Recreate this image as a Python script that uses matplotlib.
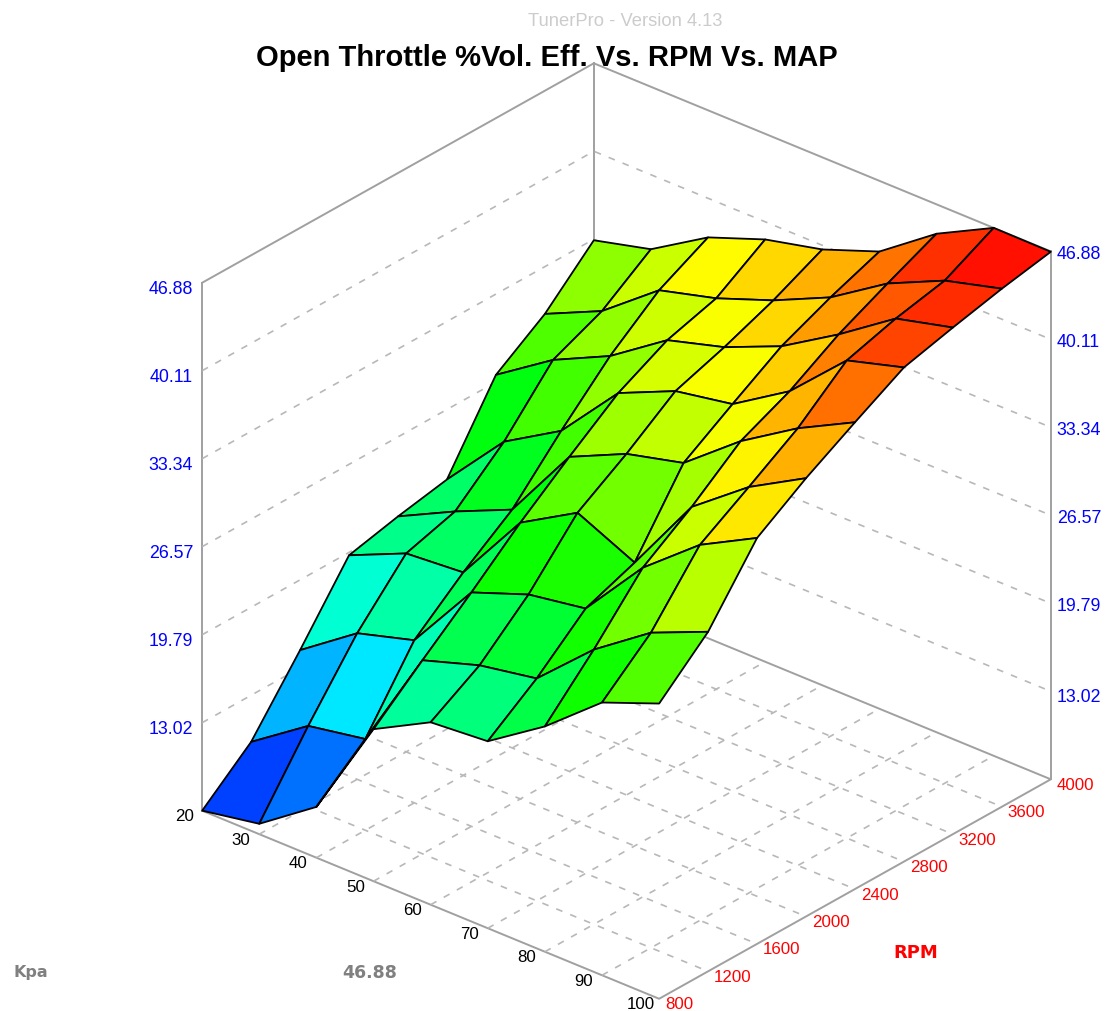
import matplotlib
matplotlib.use('Agg')
import matplotlib.pyplot as plt
from matplotlib.colors import LinearSegmentedColormap, Normalize
from mpl_toolkits.mplot3d import proj3d
import numpy as np

plt.rcParams['font.family'] = ['Liberation Sans', 'DejaVu Sans']

kpa = [20, 30, 40, 50, 60, 70, 80, 90, 100]
rpm = [800, 1200, 1600, 2000, 2400, 2800, 3200, 3600, 4000]
z_ticks = [6.25, 13.02, 19.79, 26.57, 33.34, 40.11, 46.88]

# one row per RPM, one column per Kpa
ve_800 = [6.25, 7.05, 10.16, 17.95, 20.29, 20.64, 23.59, 27.24, 28.97]
ve_1200 = [9.43, 12.47, 13.27, 21.14, 22.56, 23.36, 27.39, 30.50, 32.38]
ve_1600 = [14.38, 17.49, 18.76, 24.25, 25.90, 26.63, 31.58, 35.15, 37.49]
ve_2000 = [19.57, 21.52, 21.87, 27.51, 30.08, 28.05, 34.15, 37.49, 39.98]
ve_2400 = [20.45, 22.64, 24.59, 30.46, 32.50, 33.61, 37.10, 39.90, 42.17]
ve_2800 = [21.18, 25.90, 28.54, 33.26, 35.22, 36.03, 38.83, 43.01, 44.28]
ve_3200 = [27.12, 30.08, 32.19, 35.22, 36.49, 38.37, 41.09, 44.12, 45.24]
ve_3600 = [29.70, 31.73, 35.14, 36.33, 37.98, 40.02, 42.90, 44.93, 46.12]
ve_4000 = [33.26, 34.38, 37.10, 38.75, 39.79, 41.44, 44.62, 46.88, 46.85]

ve = np.array([ve_800, ve_1200, ve_1600, ve_2000, ve_2400, ve_2800, ve_3200, ve_3600, ve_4000])

W, H = 1105, 1012
GREY = '#a0a0a0'
DASH = '#b8b8b8'

fig = plt.figure(figsize=(W / 100, H / 100), dpi=100)
# square 3d axes, moved so the box lands where the reference has it
ax = fig.add_axes([106.8 / W, -39.7 / H, H / W, 1], projection='3d', proj_type='ortho')
ax.view_init(elev=28.7, azim=-49.4)
ax.set_box_aspect((1, 1, 1))
ax.set_axis_off()
ax.computed_zorder = False
ax.set_xlim(kpa[0], kpa[-1])
ax.set_ylim(rpm[0], rpm[-1])
ax.set_zlim(z_ticks[0], z_ticks[-1])

x0, x1 = kpa[0], kpa[-1]
y0, y1 = rpm[0], rpm[-1]
z0, z1 = z_ticks[0], z_ticks[-1]


def solid(xs, ys, zs):
    ax.plot(xs, ys, zs, color=GREY, lw=1.4, zorder=1)


def dashed(xs, ys, zs):
    ax.plot(xs, ys, zs, color=DASH, lw=1.2, ls=(0, (4, 5)), zorder=1)


# box frame
solid([x0, x1, x1, x0, x0], [y0, y0, y1, y1, y0], [z0] * 5)
solid([x0, x0, x1], [y0, y1, y1], [z1] * 3)
for bx, by in [(x0, y0), (x0, y1), (x1, y1)]:
    solid([bx, bx], [by, by], [z0, z1])

# dashed grid on the walls and the floor
for z in z_ticks[1:-1]:
    dashed([x0, x0, x1], [y0, y1, y1], [z, z, z])
for k in kpa[1:-1]:
    dashed([k, k], [y0, y1], [z0, z0])
for r in rpm[1:-1]:
    dashed([x0, x1], [r, r], [z0, z0])

# surface, each cell coloured from the mean of its corners
cmap = LinearSegmentedColormap.from_list('ve', ['#0000ff', '#00ffff', '#00ff00', '#ffff00', '#ff0000'])
norm = Normalize(z0, z1)
cell_mean = (ve[:-1, :-1] + ve[1:, :-1] + ve[:-1, 1:] + ve[1:, 1:]) / 4
X, Y = np.meshgrid(kpa, rpm)
surf = ax.plot_surface(X, Y, ve, rstride=1, cstride=1, facecolors=cmap(norm(cell_mean)),
                       shade=False, zorder=2)
surf.set_edgecolor('black')
surf.set_linewidth(1.3)


def label(x, y, z, s, dx, dy, color, ha='center', size=12.2):
    px, py, _ = proj3d.proj_transform(x, y, z, ax.get_proj())
    ax.annotate(s, (px, py), xytext=(dx, dy), textcoords='offset pixels', color=color,
                ha=ha, va='center', fontsize=size, annotation_clip=False, zorder=3)


for k in kpa:
    label(k, y0, z0, str(k), -18, -5, 'black')
for r in rpm:
    label(x1, r, z0, str(r), 6, -5, 'red', ha='left')
for z in z_ticks[1:]:
    text = '%.2f' % z
    label(x0, y0, z, text, -9, -6, 'blue', ha='right', size=12.8)
    label(x1, y1, z, text, 6, -5 if z == z_ticks[1] else -2, 'blue', ha='left', size=12.8)


def pixel_text(x, y, s, **kw):
    fig.text(x / W, 1 - y / H, s, ha='center', va='center', **kw)


pixel_text(625, 21, 'TunerPro - Version 4.13', color='#cccccc', fontsize=13.2)
pixel_text(547, 58, 'Open Throttle %Vol. Eff. Vs. RPM Vs. MAP', color='black', fontsize=21, fontweight='bold')
pixel_text(31, 973, 'Kpa', color='#808080', fontsize=11.5, fontweight='bold', family='DejaVu Sans')
pixel_text(370, 973, '46.88', color='#808080', fontsize=12.5, fontweight='bold', family='DejaVu Sans')
pixel_text(916, 953, 'RPM', color='red', fontsize=13, fontweight='bold', family='DejaVu Sans')

fig.savefig('out.png', dpi=100)
